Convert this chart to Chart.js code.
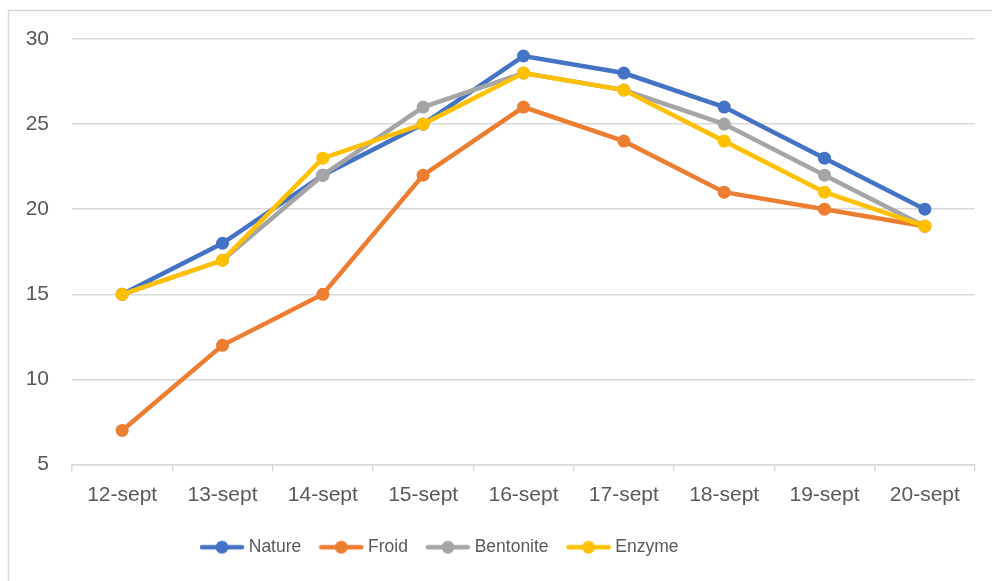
<!DOCTYPE html>
<html>
<head>
  <title>Températures</title>
  <script src="https://cdn.jsdelivr.net/npm/chart.js"></script>
  <style>
    body { margin: 0; background: #fff; }
    #wrap { position: relative; width: 992px; height: 581px; }
  </style>
</head>
<body>
<div id="wrap"><canvas id="chart"></canvas></div>

<script>
const days = ['12-sept', '13-sept', '14-sept', '15-sept', '16-sept', '17-sept', '18-sept', '19-sept', '20-sept'];
const nature    = [15, 18, 22, 25, 29, 28, 26, 23, 20];
const froid     = [7, 12, 15, 22, 26, 24, 21, 20, 19];
const bentonite = [15, 17, 22, 26, 28, 27, 25, 22, 19];
const enzyme    = [15, 17, 23, 25, 28, 27, 24, 21, 19];
const yMin = 5, yMax = 30, yStep = 5;

const FONT = "'Liberation Sans', Arial, sans-serif";
const GRID = '#d9d9d9';
const TEXT = '#595959';

// little line + dot picture for the legend
function legendMark(color) {
  const c = document.createElement('canvas');
  c.width = 46; c.height = 16;
  const g = c.getContext('2d');
  g.strokeStyle = color; g.lineWidth = 4.5; g.lineCap = 'round';
  g.beginPath(); g.moveTo(3, 8); g.lineTo(43, 8); g.stroke();
  g.fillStyle = color;
  g.beginPath(); g.arc(23, 8, 6.5, 0, Math.PI * 2); g.fill();
  return c;
}

function series(label, data, color, order) {
  return {
    label, data, order,
    borderColor: color, backgroundColor: color,
    borderWidth: 4.5, pointRadius: 6.5, pointHoverRadius: 6.5,
    pointBorderWidth: 0, tension: 0
  };
}

// frame + legend nudge
const frame = {
  id: 'frame',
  afterLayout(chart) {
    const lg = chart.legend;
    if (!lg || !lg.lineWidths) return;
    const pad = lg.options.labels.padding;
    const start = (lg.left + pad + lg.right - lg.lineWidths[0]) / 2;
    const shift = 204 - start;
    lg.left += shift; lg.right += shift;
  },
  beforeDraw(chart) {
    const ctx = chart.ctx;
    ctx.save();
    ctx.strokeStyle = GRID; ctx.lineWidth = 1.5;
    ctx.strokeRect(8.5, 10.5, 1100, 700);
    ctx.restore();
  }
};

new Chart(document.getElementById('chart'), {
  type: 'line',
  data: {
    labels: days,
    datasets: [
      series('Nature', nature, '#4472C4', 4),
      series('Froid', froid, '#ED7D31', 3),
      series('Bentonite', bentonite, '#A5A5A5', 2),
      series('Enzyme', enzyme, '#FFC000', 1)
    ]
  },
  options: {
    responsive: true,
    maintainAspectRatio: false,
    animation: false,
    layout: { padding: { left: 0, right: 17, top: 39, bottom: 15 } },
    plugins: {
      tooltip: { enabled: false },
      legend: {
        position: 'bottom',
        labels: {
          usePointStyle: true,
          pointStyleWidth: 36,
          padding: 22,
          color: TEXT,
          font: { family: FONT, size: 17.5 },
          generateLabels: chart => chart.data.datasets.map((ds, i) => ({
            text: ds.label,
            pointStyle: legendMark(ds.borderColor),
            fillStyle: ds.borderColor,
            strokeStyle: ds.borderColor,
            lineWidth: 0,
            fontColor: TEXT,
            hidden: false,
            datasetIndex: i
          }))
        }
      }
    },
    scales: {
      x: {
        offset: true,
        afterFit: s => { s.height = 52; },
        grid: { offset: true, drawOnChartArea: false, drawTicks: true, tickLength: 7, color: GRID, lineWidth: 1.5 },
        border: { color: GRID, width: 1.5 },
        ticks: { color: TEXT, font: { family: FONT, size: 21 }, padding: 11, maxRotation: 0 }
      },
      y: {
        min: yMin, max: yMax,
        afterFit: s => { s.width = 72; },
        grid: { drawTicks: false, color: GRID, lineWidth: 1.5 },
        border: { display: false },
        ticks: { stepSize: yStep, color: TEXT, font: { family: FONT, size: 21 }, padding: 23 }
      }
    }
  },
  plugins: [frame]
});
</script>
</body>
</html>
